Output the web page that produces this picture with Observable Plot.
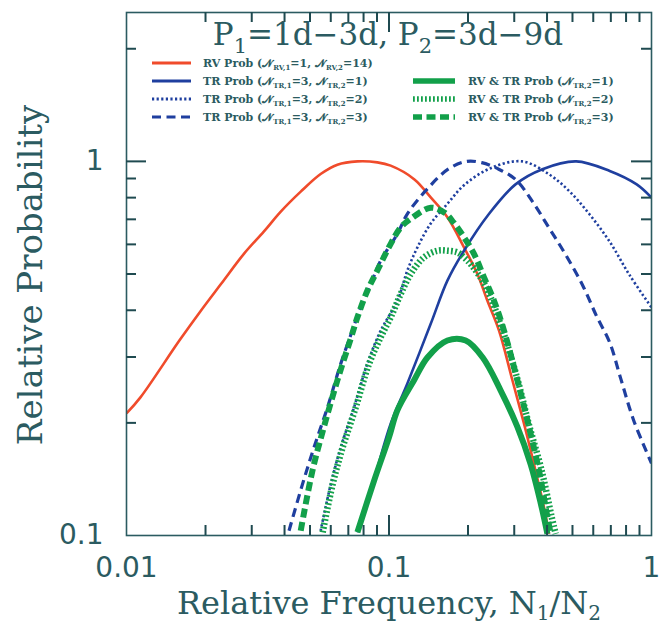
<!DOCTYPE html>
<html><head><meta charset="utf-8">
<script src="https://cdn.jsdelivr.net/npm/d3@7"></script>
<script src="https://cdn.jsdelivr.net/npm/@observablehq/plot@0.6"></script>
<style>
html,body{margin:0;padding:0;background:#fff;}
#chart{width:659px;height:625px;}
</style></head><body><div id="chart"></div>
<script>
// ---- data (x = N1/N2, y = relative probability) ----
const rvX = [0.0100,0.0113,0.0159,0.0192,0.0229,0.0280,0.0334,0.0387,0.0461,0.0549,0.0636,0.0758,0.0903,0.1015,0.1250,0.1442,0.1669,0.1931,0.2172,0.2371,0.2625,0.2952,0.3268,0.3568,0.3895,0.4070];
const rvY = [0.212,0.234,0.332,0.399,0.470,0.566,0.650,0.734,0.830,0.925,0.980,1.000,0.994,0.974,0.895,0.801,0.709,0.589,0.500,0.424,0.353,0.260,0.199,0.155,0.119,0.101];

const tr1X = [0.0758,0.0877,0.1015,0.1175,0.1442,0.1669,0.1931,0.2394,0.3033,0.3840,0.5161,0.6931,0.8783,1.0];
const tr1Y = [0.102,0.141,0.199,0.255,0.368,0.480,0.577,0.721,0.868,0.953,1.000,0.943,0.868,0.800];

const tr2X = [0.0549,0.0600,0.0655,0.0736,0.0827,0.0930,0.1076,0.1175,0.1283,0.1442,0.1669,0.1946,0.2462,0.3217,0.4077,0.4867,0.5815,0.6931,0.8260,1.0];
const tr2Y = [0.103,0.137,0.172,0.220,0.288,0.353,0.424,0.511,0.589,0.682,0.770,0.868,0.962,1.000,0.923,0.832,0.721,0.610,0.496,0.407];

const tr3X = [0.0416,0.0468,0.0518,0.0583,0.0655,0.0725,0.0780,0.0852,0.0930,0.1076,0.1175,0.1380,0.1680,0.1977,0.2255,0.2618,0.3033,0.3516,0.4077,0.4724,0.5470,0.6163,0.6931,0.7631,0.8554,1.0];
const tr3Y = [0.103,0.137,0.172,0.220,0.288,0.353,0.407,0.470,0.543,0.640,0.724,0.835,0.953,1.000,0.992,0.953,0.895,0.782,0.663,0.561,0.466,0.387,0.328,0.263,0.203,0.156];

const both1X = [0.0758,0.0877,0.1000,0.1076,0.1246,0.1401,0.1669,0.1960,0.2275,0.2664,0.3084,0.3465,0.3784,0.4013];
const both1Y = [0.102,0.140,0.183,0.216,0.260,0.299,0.332,0.332,0.299,0.244,0.195,0.155,0.122,0.101];

const both2X = [0.0559,0.0610,0.0666,0.0747,0.0837,0.0930,0.1015,0.1108,0.1210,0.1359,0.1529,0.1669,0.1822,0.1931,0.2066,0.2325,0.2711,0.3093,0.3405,0.3817,0.4167,0.4316];
const both2Y = [0.102,0.137,0.172,0.220,0.286,0.339,0.383,0.442,0.500,0.554,0.577,0.577,0.571,0.554,0.527,0.466,0.353,0.260,0.199,0.149,0.112,0.101];

const both3X = [0.0461,0.0511,0.0565,0.0636,0.0715,0.0758,0.0827,0.0903,0.1015,0.1108,0.1210,0.1442,0.1630,0.1764,0.1931,0.2108,0.2301,0.2512,0.2742,0.3084,0.3367,0.3728,0.4013,0.4130];
const both3Y = [0.103,0.149,0.195,0.260,0.336,0.383,0.451,0.511,0.602,0.666,0.702,0.752,0.729,0.686,0.627,0.566,0.490,0.424,0.353,0.260,0.203,0.149,0.112,0.101];

const xTickLabels = [0.01, 0.1, 1];
const yTickLabels = [0.1, 1];
const xMajorTicks = [0.1];
const xMinorTicks = [0.02,0.03,0.04,0.05,0.06,0.07,0.08,0.09,0.2,0.3,0.4,0.5,0.6,0.7,0.8,0.9];
const yMajorTicks = [1];
const yMinorTicks = [0.2,0.3,0.4,0.5,0.6,0.7,0.8,0.9,2];

// ---- styles / layout ----
const INK = "#2b5b61";
const TICK = "#1f4a50";
const RED = "#f04b2b", BLUE = "#1f3f9f", GREEN = "#12a04a";
const series = [
  {x: rvX, y: rvY, stroke: RED, w: 2.6, dash: null},
  {x: tr1X, y: tr1Y, stroke: BLUE, w: 2.6, dash: null},
  {x: tr2X, y: tr2Y, stroke: BLUE, w: 2.6, dash: "2.2,2.4"},
  {x: tr3X, y: tr3Y, stroke: BLUE, w: 3.2, dash: "9,5.5"},
  {x: both1X, y: both1Y, stroke: GREEN, w: 6, dash: null},
  {x: both2X, y: both2Y, stroke: GREEN, w: 6.5, dash: "1.8,2.2"},
  {x: both3X, y: both3Y, stroke: GREEN, w: 6, dash: "9,4.5"}
];
const rows = s => s.x.map((x, i) => ({x, y: s.y[i]}));

const W = 659, H = 625, mL = 126, mR = 8, mT = 12, mB = 90;
const fw = W - mL - mR, fh = H - mT - mB;
const tickOpt = {stroke: TICK, strokeWidth: 2};
// inward ticks: full-frame rules shortened with insets to the tick length
const ticksX = (vals, len) => [
  Plot.ruleX(vals, {x: d => d, insetTop: fh - len, ...tickOpt}),
  Plot.ruleX(vals, {x: d => d, insetBottom: fh - len, ...tickOpt})
];
const ticksY = (vals, len) => [
  Plot.ruleY(vals, {y: d => d, insetRight: fw - len, ...tickOpt}),
  Plot.ruleY(vals, {y: d => d, insetLeft: fw - len, ...tickOpt})
];

const plot = Plot.plot({
  width: W, height: H,
  marginLeft: mL, marginRight: mR, marginTop: mT, marginBottom: mB,
  x: {type: "log", domain: [0.01, 1]},
  y: {type: "log", domain: [0.1, 2.5]},
  style: {fontFamily: "DejaVu Sans", fontSize: "28px", color: INK, background: "#fff"},
  marks: [
    ...series.map(s => Plot.line(rows(s), {x: "x", y: "y", stroke: s.stroke, strokeWidth: s.w,
      strokeDasharray: s.dash, strokeLinecap: "butt", strokeLinejoin: "round",
      curve: "catmull-rom", clip: true})),
    Plot.axisX({anchor: "bottom", ticks: xTickLabels, tickSize: 0, tickPadding: 22,
      tickFormat: d => String(d), label: null, fill: INK}),
    Plot.axisY({anchor: "left", ticks: yTickLabels, tickSize: 0, tickPadding: 23,
      tickFormat: d => String(d), label: null, fill: INK}),
    Plot.frame({stroke: INK, strokeWidth: 1.6}),
    ...ticksX(xMajorTicks, 20), ...ticksX(xMinorTicks, 10),
    ...ticksY(yMajorTicks, 20), ...ticksY(yMinorTicks, 10)
  ]
});
document.getElementById("chart").appendChild(plot);

const svg = d3.select(plot);

// ---- text decorations (title, axis titles, legend) ----
const SERIF = "DejaVu Serif";
function richSub(sel, parts, shift, subSize) {
  let down = false;
  parts.forEach(p => {
    if (typeof p === "string") {
      const t = sel.append("tspan").text(p);
      if (down) { t.attr("dy", -shift); down = false; }
    } else {
      sel.append("tspan").attr("font-size", subSize).attr("dy", down ? 0 : shift).text(p.sub);
      down = true;
    }
  });
  return sel;
}

// title
richSub(svg.append("text").attr("x", 388).attr("y", 45).attr("text-anchor", "middle")
  .attr("font-family", SERIF).attr("font-size", 31).attr("fill", INK),
  ["P", {sub: "1"}, "=1d\u22123d, P", {sub: "2"}, "=3d\u22129d"], 8, 21);

// x axis title
richSub(svg.append("text").attr("x", 389).attr("y", 614).attr("text-anchor", "middle")
  .attr("font-family", SERIF).attr("font-size", 32).attr("fill", INK),
  ["Relative Frequency, N", {sub: "1"}, "/N", {sub: "2"}], 6, 20);

// y axis title
svg.append("text").attr("transform", "translate(42,275) rotate(-90)").attr("text-anchor", "middle")
  .attr("font-family", SERIF).attr("font-size", 34).attr("fill", INK).text("Relative Probability");

// legend
const NS = "\u{1D4A9}";
const legendLeft = [
  {y: 63, s: 0, parts: ["RV Prob (", NS, {sub: "RV,1"}, "=1, ", NS, {sub: "RV,2"}, "=14)"]},
  {y: 81, s: 1, parts: ["TR Prob (", NS, {sub: "TR,1"}, "=3, ", NS, {sub: "TR,2"}, "=1)"]},
  {y: 99, s: 2, parts: ["TR Prob (", NS, {sub: "TR,1"}, "=3, ", NS, {sub: "TR,2"}, "=2)"]},
  {y: 117, s: 3, parts: ["TR Prob (", NS, {sub: "TR,1"}, "=3, ", NS, {sub: "TR,2"}, "=3)"]}
];
const legendRight = [
  {y: 81, s: 4, parts: ["RV & TR Prob (", NS, {sub: "TR,2"}, "=1)"]},
  {y: 99, s: 5, parts: ["RV & TR Prob (", NS, {sub: "TR,2"}, "=2)"]},
  {y: 117, s: 6, parts: ["RV & TR Prob (", NS, {sub: "TR,2"}, "=3)"]}
];
const lg = svg.append("g");
function legendRow(item, x0, x1, tx) {
  const s = series[item.s];
  lg.append("line").attr("x1", x0).attr("x2", x1).attr("y1", item.y).attr("y2", item.y)
    .attr("stroke", s.stroke).attr("stroke-width", s.w >= 6 ? 5.5 : 3)
    .attr("stroke-dasharray", s.dash).attr("stroke-linecap", "butt");
  richSub(lg.append("text").attr("x", tx).attr("y", item.y + 4).attr("text-anchor", "start")
    .attr("font-family", SERIF).attr("font-weight", "bold").attr("font-size", 11).attr("fill", INK),
    item.parts, 2.5, 7);
}
legendLeft.forEach(d => legendRow(d, 152, 191, 203));
legendRight.forEach(d => legendRow(d, 413, 455, 468));
</script>
</body></html>
